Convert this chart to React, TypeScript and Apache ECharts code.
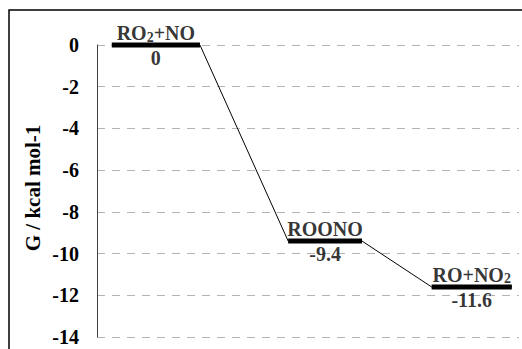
import React, { useEffect, useRef } from "react";
import * as echarts from "echarts";

// Energy levels (reaction coordinate positions are in arbitrary units 0..10)
const levelNames = ["RO2+NO", "ROONO", "RO+NO2"];
const levelEnergies = [0, -9.4, -11.6];
const levelStart = [0.35, 4.53, 7.93];
const levelEnd = [2.44, 6.28, 9.83];

const yMin = -14;
const yMax = 0;
const yInterval = 2;
const yAxisTitle = "G / kcal mol-1";

const FONT = "Liberation Serif";

export default function App() {
  const ref = useRef<HTMLDivElement>(null);

  useEffect(() => {
    if (!ref.current) return;
    const chart = echarts.init(ref.current, undefined, { renderer: "svg" });

    const pathData: number[][] = [];
    levelEnergies.forEach((e, i) => {
      pathData.push([levelStart[i], e]);
      pathData.push([levelEnd[i], e]);
    });

    const barSeries = levelEnergies.map((e, i) => ({
      type: "line",
      data: [
        [levelStart[i], e],
        [levelEnd[i], e],
      ],
      symbol: "none",
      clip: false,
      silent: true,
      lineStyle: { color: "#000", width: 5 },
      z: 3,
    }));

    const mids = levelEnergies.map((e, i) => [(levelStart[i] + levelEnd[i]) / 2, e]);

    const toRich = (s: string) => s.replace(/(\d)/g, "{s|$1}");

    chart.setOption({
      animation: false,
      grid: { left: 97, right: 3, top: 45, bottom: 12, containLabel: false },
      xAxis: {
        type: "value",
        min: 0,
        max: 10,
        show: false,
      },
      yAxis: {
        type: "value",
        min: yMin,
        max: yMax,
        interval: yInterval,
        axisLine: { show: true, lineStyle: { color: "#404040", width: 1 } },
        axisTick: { show: false },
        axisLabel: {
          fontFamily: FONT,
          fontWeight: "bold",
          fontSize: 20,
          color: "#000",
          margin: 18,
        },
        splitLine: {
          show: true,
          lineStyle: { color: "#b3b3b3", width: 1, type: [8, 7] },
        },
      },
      graphic: [
        {
          type: "rect",
          shape: { x: 9, y: 10, width: 620, height: 420 },
          style: { fill: "none", stroke: "#000", lineWidth: 1.5 },
          silent: true,
        },
        {
          type: "text",
          x: 33,
          y: 188,
          rotation: Math.PI / 2,
          style: {
            text: yAxisTitle,
            font: "bold 21px " + FONT,
            fill: "#000",
            align: "center",
            verticalAlign: "middle",
          },
          silent: true,
        },
      ],
      series: [
        {
          type: "line",
          data: pathData,
          symbol: "none",
          clip: false,
          silent: true,
          lineStyle: { color: "#000", width: 1 },
          z: 2,
        },
        ...barSeries,
        {
          type: "scatter",
          data: mids.map((m, i) => ({ value: m, name: levelNames[i] })),
          symbolSize: 0,
          silent: true,
          clip: false,
          label: {
            show: true,
            position: "top",
            distance: 1,
            formatter: (p: any) => toRich(p.name),
            fontFamily: FONT,
            fontWeight: "bold",
            fontSize: 20,
            color: "#000",
            lineHeight: 22,
            rich: {
              s: {
                fontFamily: FONT,
                fontWeight: "bold",
                fontSize: 14,
                color: "#000",
                lineHeight: 20,
                verticalAlign: "bottom",
              },
            },
          },
          z: 4,
        },
        {
          type: "scatter",
          data: mids,
          symbolSize: 0,
          silent: true,
          clip: false,
          label: {
            show: true,
            position: "bottom",
            distance: 3,
            formatter: (p: any) => String(p.value[1]),
            fontFamily: FONT,
            fontWeight: "bold",
            fontSize: 20,
            color: "#000",
          },
          z: 4,
        },
      ],
    });

    return () => chart.dispose();
  }, []);

  return (
    <div
      ref={ref}
      style={{ position: "fixed", left: 0, top: 0, width: 522, height: 349, background: "#fff" }}
    />
  );
}
